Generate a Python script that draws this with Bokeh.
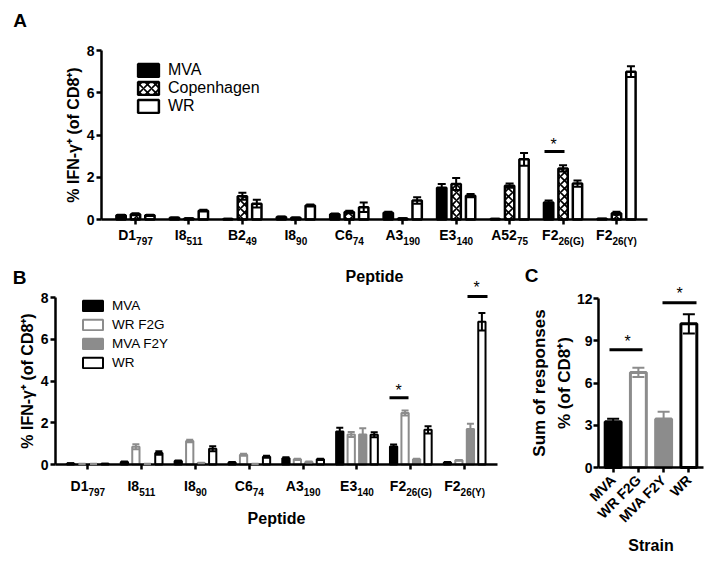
import math
from bokeh.plotting import figure
from bokeh.models import (ColumnDataSource, Whisker, TeeHead, Label, Arrow,
                          FixedTicker, Range1d)
from bokeh.layouts import row, column
from bokeh.embed import file_html
from bokeh.resources import INLINE

FONT = "Liberation Sans"
BLACK = "#000000"
GRAY = "#8c8c8c"
WHITE = "#ffffff"

# ---------------- Panel A data ----------------
pep_a = ["D1", "I8", "B2", "I8", "C6", "A3", "E3", "A52", "F2", "F2"]
sub_a = ["797", "511", "49", "90", "74", "190", "140", "75", "26(G)", "26(Y)"]
mva_a = [0.20, 0.08, 0.02, 0.12, 0.25, 0.32, 1.50, 0.02, 0.80, 0.03]
mva_a_err = [0.03, 0.01, 0.01, 0.02, 0.03, 0.05, 0.18, 0.01, 0.10, 0.01]
cop_a = [0.25, 0.05, 1.10, 0.08, 0.36, 0.05, 1.68, 1.60, 2.42, 0.30]
cop_a_err = [0.05, 0.01, 0.17, 0.02, 0.06, 0.01, 0.28, 0.10, 0.15, 0.07]
wr_a = [0.20, 0.42, 0.75, 0.66, 0.58, 0.90, 1.13, 2.85, 1.70, 7.00]
wr_a_err = [0.03, 0.04, 0.18, 0.05, 0.22, 0.15, 0.08, 0.30, 0.15, 0.26]

# ---------------- Panel B data ----------------
pep_b = ["D1", "I8", "I8", "C6", "A3", "E3", "F2", "F2"]
sub_b = ["797", "511", "90", "74", "190", "140", "26(G)", "26(Y)"]
mva_b = [0.05, 0.12, 0.17, 0.10, 0.30, 1.58, 0.86, 0.10]
mva_b_err = [0.01, 0.02, 0.02, 0.02, 0.05, 0.18, 0.10, 0.02]
wrf2g_b = [0.02, 0.85, 1.12, 0.47, 0.25, 1.44, 2.47, 0.20]
wrf2g_b_err = [0.01, 0.12, 0.06, 0.05, 0.03, 0.12, 0.12, 0.02]
mvaf2y_b = [0.02, 0.02, 0.07, 0.02, 0.12, 1.44, 0.25, 1.70]
mvaf2y_b_err = [0.01, 0.01, 0.01, 0.01, 0.02, 0.30, 0.03, 0.25]
wr_b = [0.03, 0.55, 0.75, 0.37, 0.25, 1.42, 1.66, 6.84]
wr_b_err = [0.01, 0.08, 0.12, 0.05, 0.03, 0.12, 0.17, 0.42]

# ---------------- Panel C data ----------------
strains_c = ["MVA", "WR F2G", "MVA F2Y", "WR"]
sum_c = [3.25, 6.75, 3.45, 10.20]
sum_c_err = [0.22, 0.33, 0.50, 0.68]

BOLD_W = {'A': 722, 'B': 722, 'C': 722, 'D': 722, 'E': 667, 'F': 611,
          'G': 778, 'I': 278, 'Y': 667, '(': 333, ')': 333}


def tw(s, size):
    return sum(BOLD_W.get(c, 556) for c in s) * size / 1000.0


class Geo:
    """Maps pixel positions (page coords) to data coords of a panel whose
    canvas is entirely the plotting frame."""

    def __init__(self, ox, oy, width, height, fl, ft, fw, fh, xlo, xhi, ylo, yhi):
        self.ox, self.oy = ox, oy
        self.fl, self.ft, self.fh = fl, ft, fh
        self.xlo, self.ylo = xlo, ylo
        self.sx = fw / (xhi - xlo)
        self.sy = fh / (yhi - ylo)
        self.x_start = xlo - fl / self.sx
        self.x_end = xhi + (width - fl - fw) / self.sx
        self.y_end = yhi + ft / self.sy
        self.y_start = ylo - (height - ft - fh) / self.sy
        self.bounds_x = (xlo, xhi)
        self.bounds_y = (ylo, yhi)

    def X(self, px):
        return self.xlo + (px - self.ox - self.fl) / self.sx

    def Y(self, py):
        return self.ylo + (self.oy + self.ft + self.fh - py) / self.sy


def make_fig(g, width, height):
    p = figure(width=width, height=height, output_backend="svg",
               toolbar_location=None, min_border=0,
               x_range=Range1d(g.x_start, g.x_end),
               y_range=Range1d(g.y_start, g.y_end))
    p.outline_line_color = None
    p.background_fill_color = None
    p.border_fill_color = None
    p.xgrid.visible = False
    p.ygrid.visible = False
    xa, ya = p.xaxis[0], p.yaxis[0]
    xa.fixed_location = g.bounds_y[0]
    xa.bounds = g.bounds_x
    ya.fixed_location = g.bounds_x[0]
    ya.bounds = g.bounds_y
    for ax in (xa, ya):
        ax.axis_line_width = 2.5
        ax.axis_line_color = BLACK
        ax.major_tick_line_width = 2.5
        ax.major_tick_line_color = BLACK
        ax.major_tick_out = 5
        ax.major_tick_in = 0
        ax.minor_tick_line_color = None
        ax.major_label_text_font = FONT
        ax.major_label_text_font_style = "bold"
        ax.major_label_text_font_size = "14px"
        ax.major_label_text_color = BLACK
        ax.axis_label_text_font = FONT
        ax.axis_label_text_font_style = "bold"
        ax.axis_label_text_color = BLACK
        ax.axis_label_text_font_size = "16px"
    ya.major_label_standoff = 2
    return p


def add_tick_labels(p, g, bases, subs, base_cy, sub_cy):
    for i, (b, s) in enumerate(zip(bases, subs)):
        wb = tw(b, 14)
        ws = tw(s, 10)
        tot = wb + ws
        p.add_layout(Label(x=i, y=g.Y(base_cy), x_offset=-tot / 2, text=b,
                           text_align="left", text_baseline="middle",
                           text_font=FONT, text_font_style="bold",
                           text_font_size="14px", text_color=BLACK))
        p.add_layout(Label(x=i, y=g.Y(sub_cy), x_offset=-tot / 2 + wb, text=s,
                           text_align="left", text_baseline="middle",
                           text_font=FONT, text_font_style="bold",
                           text_font_size="10px", text_color=BLACK))


def add_err(p, xs, vals, errs, color, size, lw=2):
    src = ColumnDataSource(dict(base=xs,
                                lower=[v - e for v, e in zip(vals, errs)],
                                upper=[v + e for v, e in zip(vals, errs)]))
    w = Whisker(source=src, base="base", lower="lower", upper="upper",
                line_color=color, line_width=lw, level="overlay",
                upper_head=TeeHead(size=size, line_color=color, line_width=lw),
                lower_head=TeeHead(size=size, line_color=color, line_width=lw))
    p.add_layout(w)


def star(p, g, cx, cy):
    p.add_layout(Label(x=g.X(cx), y=g.Y(cy + 3.5), text="*", text_align="center",
                       text_baseline="middle", text_font=FONT,
                       text_font_size="16px", text_color=BLACK))


def sig_line(p, g, px0, px1, py, lw=3):
    p.add_layout(Arrow(x_start=g.X(px0), x_end=g.X(px1), y_start=g.Y(py),
                       y_end=g.Y(py), start=None, end=None,
                       line_color=BLACK, line_width=lw))


def letter(p, g, cx, cy, t):
    p.add_layout(Label(x=g.X(cx), y=g.Y(cy), text=t, text_align="center",
                       text_baseline="middle", text_font=FONT,
                       text_font_style="bold", text_font_size="19px",
                       text_color=BLACK))


def style_legend(lg, x, y, gw, gh, lh, size):
    lg.location = (x, y)
    lg.margin = 0
    lg.padding = 0
    lg.spacing = 0
    lg.border_line_color = None
    lg.background_fill_color = None
    lg.background_fill_alpha = 0
    lg.glyph_width = gw
    lg.glyph_height = gh
    lg.label_height = lh
    lg.label_standoff = 7
    lg.label_text_font = FONT
    lg.label_text_font_size = size
    lg.label_text_color = BLACK


# ================= Panel A =================
WA, HA = 714, 285
gA = Geo(0, 0, WA, HA, 101, 50, 546, 169, -0.636, 9.58, 0, 8)
pA = make_fig(gA, WA, HA)
nA = len(pep_a)
xa = list(range(nA))
offA = 0.27
wA = 0.175
x_mva = [x - offA for x in xa]
x_cop = xa
x_wr = [x + offA for x in xa]
pA.vbar(x=x_mva, top=mva_a, width=wA, fill_color=BLACK, line_color=BLACK,
        line_width=2.5, legend_label="MVA")
pA.vbar(x=x_cop, top=cop_a, width=wA, fill_color=WHITE, line_color=BLACK,
        line_width=2.5, hatch_pattern="diagonal_cross", hatch_color=BLACK,
        hatch_scale=8, hatch_weight=1.6, legend_label="Copenhagen")
pA.vbar(x=x_wr, top=wr_a, width=wA, fill_color=WHITE, line_color=BLACK,
        line_width=2.5, legend_label="WR")
add_err(pA, x_mva, mva_a, mva_a_err, BLACK, 8)
add_err(pA, x_cop, cop_a, cop_a_err, BLACK, 8)
add_err(pA, x_wr, wr_a, wr_a_err, BLACK, 8)
pA.xaxis[0].ticker = FixedTicker(ticks=xa)
pA.xaxis[0].major_label_overrides = {i: "" for i in xa}
pA.xaxis[0].axis_label = "Peptide"
pA.xaxis[0].axis_label_standoff = 43
pA.yaxis[0].ticker = FixedTicker(ticks=[0, 2, 4, 6, 8])
pA.yaxis[0].axis_label = "% IFN-γ\u207a (of CD8\u207a)"
pA.yaxis[0].axis_label_standoff = 2
add_tick_labels(pA, gA, pep_a, sub_a, 234.0, 240.5)
sig_line(pA, gA, 544, 564, 151)
star(pA, gA, 553, 140)
letter(pA, gA, 19.5, 19.5, "A")
style_legend(pA.legend[0], 135, 170, 26, 16, 17, "16px")

# ================= Panel B =================
OYB = 258
WB, HB = 520, 302
gB = Geo(0, OYB, WB, HB, 55, 297 - OYB, 442, 167, -0.6, 7.61, 0, 8)
pB = make_fig(gB, WB, HB)
nB = len(pep_b)
xb = list(range(nB))
wB = 0.135
offs = [-0.32, -0.107, 0.107, 0.32]
xb1 = [x + offs[0] for x in xb]
xb2 = [x + offs[1] for x in xb]
xb3 = [x + offs[2] for x in xb]
xb4 = [x + offs[3] for x in xb]
pB.vbar(x=xb1, top=mva_b, width=wB, fill_color=BLACK, line_color=BLACK,
        line_width=2, legend_label="MVA")
pB.vbar(x=xb2, top=wrf2g_b, width=wB, fill_color=WHITE, line_color=GRAY,
        line_width=2, legend_label="WR F2G")
pB.vbar(x=xb3, top=mvaf2y_b, width=wB, fill_color=GRAY, line_color=GRAY,
        line_width=2, legend_label="MVA F2Y")
pB.vbar(x=xb4, top=wr_b, width=wB, fill_color=WHITE, line_color=BLACK,
        line_width=2, legend_label="WR")
add_err(pB, xb1, mva_b, mva_b_err, BLACK, 7)
add_err(pB, xb2, wrf2g_b, wrf2g_b_err, GRAY, 7)
add_err(pB, xb3, mvaf2y_b, mvaf2y_b_err, GRAY, 7)
add_err(pB, xb4, wr_b, wr_b_err, BLACK, 7)
pB.xaxis[0].ticker = FixedTicker(ticks=xb)
pB.xaxis[0].major_label_overrides = {i: "" for i in xb}
pB.xaxis[0].axis_label = "Peptide"
pB.xaxis[0].axis_label_standoff = 40
pB.yaxis[0].ticker = FixedTicker(ticks=[0, 2, 4, 6, 8])
pB.yaxis[0].axis_label = "% IFN-γ\u207a (of CD8\u207a)"
pB.yaxis[0].axis_label_standoff = 2
add_tick_labels(pB, gB, pep_b, sub_b, 485.4, 491.5)
sig_line(pB, gB, 389, 408, 397.3)
star(pB, gB, 398, 386)
sig_line(pB, gB, 467, 487, 296)
star(pB, gB, 476, 283)
letter(pB, gB, 19, 276.5, "B")
style_legend(pB.legend[0], 80, 188, 25, 13, 19, "13.5px")

# ================= Panel C =================
OXC = 520
WC, HC = 194, 302
gC = Geo(OXC, OYB, WC, HC, 78, 298 - OYB, 105, 169, -0.58, 3.58, 0, 12)
pC = make_fig(gC, WC, HC)
xc = list(range(len(strains_c)))
fills = [BLACK, WHITE, GRAY, WHITE]
lines = [BLACK, GRAY, GRAY, BLACK]
pC.vbar(x=xc, top=sum_c, width=0.63, fill_color=fills, line_color=lines,
        line_width=3)
for i in xc:
    add_err(pC, [xc[i]], [sum_c[i]], [sum_c_err[i]], lines[i], 12, lw=2)
pC.xaxis[0].ticker = FixedTicker(ticks=xc)
pC.xaxis[0].major_label_overrides = {i: s for i, s in zip(xc, strains_c)}
pC.xaxis[0].major_label_orientation = math.pi / 4
pC.xaxis[0].axis_label = "Strain"
pC.xaxis[0].axis_label_standoff = 3
pC.yaxis[0].ticker = FixedTicker(ticks=[0, 3, 6, 9, 12])
pC.yaxis[0].axis_label = "Sum of responses\n% (of CD8\u207a)"
pC.yaxis[0].axis_label_text_font_size = "17px"
pC.yaxis[0].axis_label_standoff = 0
pC.yaxis[0].major_label_standoff = 1
pC.yaxis[0].axis_label_text_line_height = 1.3
sig_line(pC, gC, 609, 642, 349.3)
star(pC, gC, 627, 337)
sig_line(pC, gC, 662, 696, 302.3)
star(pC, gC, 679, 289)
letter(pC, gC, 531, 275, "C")

lower = row(pB, pC, margin=(OYB - HA, 0, 0, 0))
layout = column(pA, lower)

open("out.html", "w").write(file_html(layout, INLINE))
